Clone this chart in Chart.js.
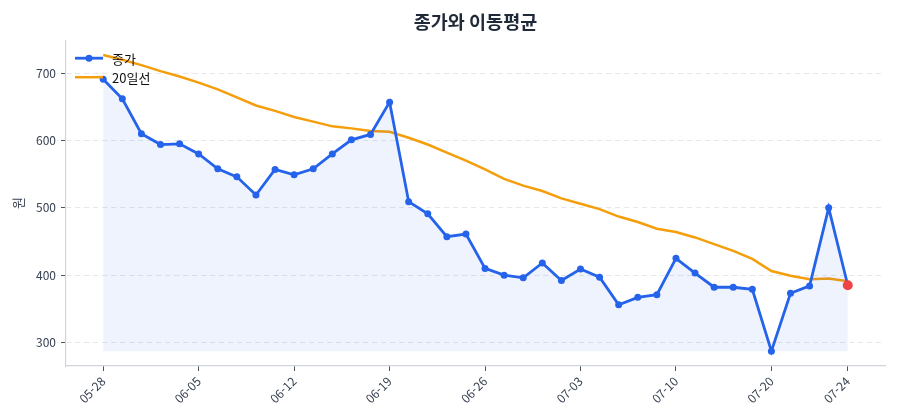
<!DOCTYPE html>
<html lang="ko">
<head>
<meta charset="utf-8">
<title>종가와 이동평균</title>
<script src="https://cdn.jsdelivr.net/npm/chart.js@4/dist/chart.umd.min.js"></script>
<style>
  html, body { margin: 0; padding: 0; background: #fff; }
  #wrap { width: 900px; height: 420px; position: relative; }
</style>
</head>
<body>
<div id="wrap"><canvas id="priceChart"></canvas></div>
<script>
// values
const dates = [
  '05-28', '05-29', '05-30', '05-31', '06-04', '06-05', '06-06', '06-09', '06-10', '06-11',
  '06-12', '06-13', '06-16', '06-17', '06-18', '06-19', '06-20', '06-23', '06-24', '06-25',
  '06-26', '06-27', '06-30', '07-01', '07-02', '07-03', '07-04', '07-07', '07-08', '07-09',
  '07-10', '07-11', '07-14', '07-15', '07-16', '07-20', '07-21', '07-22', '07-23', '07-24',
];
const close = [
  691, 662, 610, 594, 595, 580, 558, 546, 519, 557,
  549, 558, 580, 601, 609, 657, 509, 491, 457, 461,
  410, 400, 396, 418, 392, 409, 397, 356, 367, 371,
  425, 403, 382, 382, 379, 287, 373, 384, 500, 385,
];
const ma20 = [
  727, 720, 712, 703, 695, 686, 676, 664, 652, 644,
  635, 628, 621, 618, 614, 613, 604, 594, 582, 570,
  557, 543, 533, 525, 514, 506, 498, 487, 479, 469,
  464, 456, 446, 436, 424, 406, 399, 394, 395, 391,
];
const tickIdx = [0, 5, 10, 15, 20, 25, 30, 35, 39];
const yTicks = [300, 400, 500, 600, 700];

const FONT = "'Noto Sans CJK KR', 'Noto Sans', sans-serif";
const BLUE = '#2563eb';
const ORANGE = '#f59e0b';
const RED = '#ef4444';

const lo = Math.min(...close, ...ma20);
const hi = Math.max(...close, ...ma20);
const yPad = (hi - lo) * 0.05;
const xPad = (close.length - 1) * 0.05;
const last = close.length - 1;

Chart.defaults.font.family = FONT;

// legend drawn inside the plot, top-left, stacked
const innerLegend = {
  id: 'innerLegend',
  afterDraw(chart) {
    const { ctx, chartArea: a } = chart;
    ctx.save();
    ctx.font = '13px ' + FONT;
    ctx.textBaseline = 'middle';
    chart.data.datasets.forEach((ds, i) => {
      const y = a.top + 18 + i * 19;
      const x0 = a.left + 9;
      ctx.strokeStyle = ds.borderColor;
      ctx.lineWidth = ds.borderWidth;
      ctx.beginPath(); ctx.moveTo(x0, y); ctx.lineTo(x0 + 28, y); ctx.stroke();
      if (i === 0) {
        ctx.fillStyle = ds.borderColor;
        ctx.beginPath(); ctx.arc(x0 + 14, y, 3.5, 0, Math.PI * 2); ctx.fill();
      }
      ctx.fillStyle = '#111';
      ctx.fillText(ds.label, x0 + 37, y + 1);
    });
    ctx.restore();
  }
};

new Chart(document.getElementById('priceChart'), {
  type: 'line',
  data: {
    datasets: [
      {
        label: '종가',
        data: close.map((v, i) => ({ x: i, y: v })),
        borderColor: BLUE,
        borderWidth: 2.8,
        tension: 0,
        pointRadius: c => c.dataIndex === last ? 5 : 3.5,
        pointBackgroundColor: c => c.dataIndex === last ? RED : BLUE,
        pointBorderWidth: 0,
        fill: { value: Math.min(...close) },
        backgroundColor: 'rgba(37, 99, 235, 0.08)',
      },
      {
        label: '20일선',
        data: ma20.map((v, i) => ({ x: i, y: v })),
        borderColor: ORANGE,
        borderWidth: 2.5,
        tension: 0,
        pointRadius: 0,
        fill: false,
      },
    ],
  },
  options: {
    responsive: true,
    maintainAspectRatio: false,
    animation: false,
    layout: { padding: { top: 0, right: 15, bottom: 0, left: 0 } },
    plugins: {
      legend: { display: false },
      tooltip: { enabled: false },
      title: {
        display: true,
        text: '종가와 이동평균',
        fullSize: false,
        color: '#1f2937',
        font: { size: 18.5, weight: 'bold' },
        padding: { top: 11, bottom: 7 },
      },
    },
    scales: {
      x: {
        type: 'linear',
        min: -xPad,
        max: last + xPad,
        afterBuildTicks: s => { s.ticks = tickIdx.map(v => ({ value: v })); },
        afterFit: s => { s.height = 54; },
        grid: { drawOnChartArea: false, tickColor: '#4b5563', tickLength: 5 },
        border: { color: '#d1d5db', width: 1.2 },
        ticks: {
          autoSkip: false, minRotation: 45, maxRotation: 45,
          color: '#374151', font: { size: 12 }, padding: 3,
          callback: v => dates[v] ?? '',
        },
      },
      y: {
        min: lo - yPad,
        max: hi + yPad,
        afterBuildTicks: s => { s.ticks = yTicks.map(v => ({ value: v })); },
        afterFit: s => { s.width = 66; },
        grid: { color: '#e5e7eb', tickColor: '#4b5563', tickLength: 5, lineWidth: 1 },
        border: { color: '#d1d5db', width: 1.2, dash: [5, 4] },
        ticks: { color: '#374151', font: { size: 12 }, padding: 5 },
        title: { display: true, text: '원', color: '#374151', font: { size: 13 }, padding: { top: 10, bottom: 0 } },
      },
    },
  },
  plugins: [innerLegend],
});
</script>
</body>
</html>
